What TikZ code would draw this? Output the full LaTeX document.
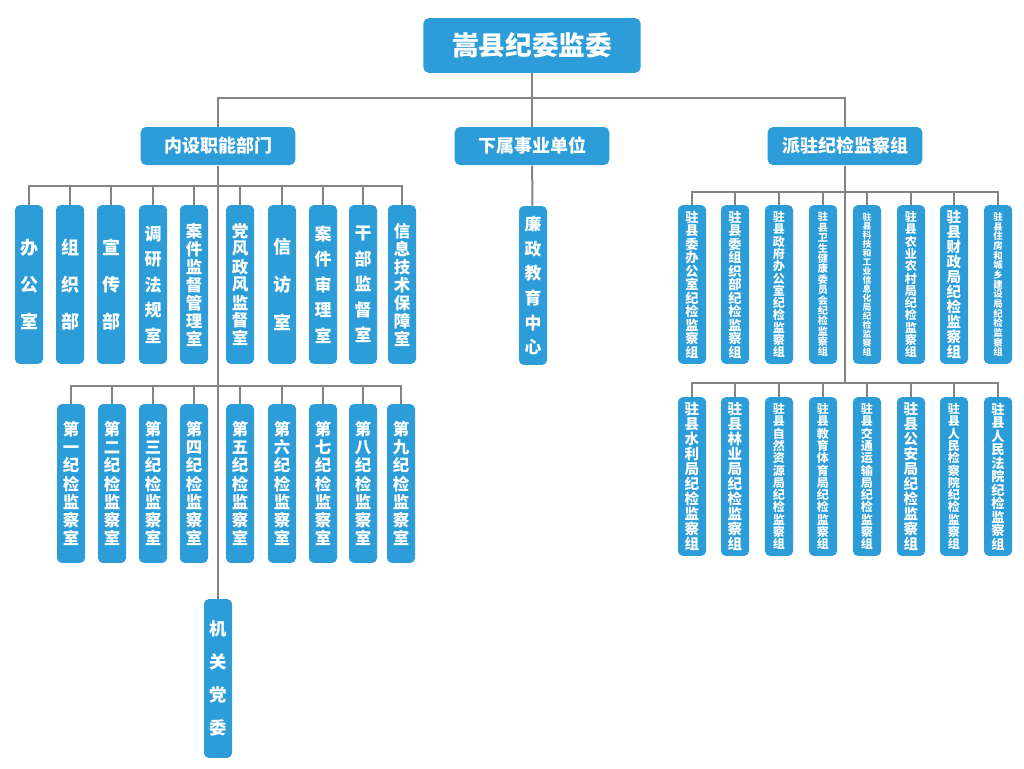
\documentclass[tikz,border=0pt]{standalone}
\usepackage{fontspec}
\newfontfamily\cjk{Noto Sans CJK SC}
\definecolor{boxblue}{RGB}{44,157,216}
\definecolor{linegray}{RGB}{132,132,132}
\tikzset{every picture/.style={line width=0.75pt}}
\tikzset{
  headbox/.style={rectangle, rounded corners=4pt, fill=boxblue, text=white, inner sep=0pt,
    minimum width=163pt, minimum height=41pt, font=\fontsize{20}{24}\selectfont\cjk\bfseries},
  deptbox/.style={rectangle, rounded corners=4pt, fill=boxblue, text=white, inner sep=0pt,
    minimum width=116pt, minimum height=28.5pt, font=\fontsize{13.5}{16}\selectfont\cjk\bfseries},
  colbox/.style={rectangle, rounded corners=3.5pt, fill=boxblue, text=white, inner sep=0pt,
    minimum width=21pt, minimum height=119pt},
  colfont/.style 2 args={font=\fontsize{#1}{#2}\selectfont\cjk\bfseries},
  link/.style={draw=linegray, line width=1.5pt}
}
% one character per line
\newcommand\stackchars[1]{\vbox{\lineskiplimit=-20pt\expandafter\stackcharsi#1\relax}}
\def\stackcharsi#1#2{\hbox{#1}\ifx\relax#2\expandafter\dropone\else\expandafter\stackcharsi\fi#2}
\def\dropone#1{}

\begin{document}
\begin{tikzpicture}[x=0.75pt,y=0.75pt,yscale=-1,xscale=1]
		\fill[white] (0,0) rectangle (1024,768);
		\useasboundingbox (0,0) rectangle (1024,768);
		
		% Top and second level
		\node[headbox] (top) at (532,45.5) {嵩县纪委监委};
		\node[deptbox] (dept) at (218,146) {内设职能部门};
		\node[deptbox] (inst) at (532,146) {下属事业单位};
		\node[deptbox] (grp) at (845,146) {派驻纪检监察组};
		
		% Internal departments, first row
		\foreach \x/\txt/\sp/\fp [count=\i] in {29/办公室/37/18, 70/组织部/37/18, 111/宣传部/37/18,
			153/调研法规室/25.5/17, 194/案件监督管理室/18/16.5, 240/党风政风监督室/18/16.5,
			282/信访室/38/18, 323/案件审理室/25.5/17, 363/干部监督室/25.5/17, 402/信息技术保障室/18/16.5}
		{
			\pgfmathsetmacro\fs{0.75*\fp}
			\pgfmathsetmacro\bs{0.75*\sp}
			\node[colbox, colfont={\fs}{\bs}] (a\i) at (\x,284.5) {\stackchars{\txt}};
		}
		% Internal departments, second row
		\foreach \x/\txt [count=\i] in {71/第一纪检监察室, 112/第二纪检监察室, 153/第三纪检监察室,
			194/第四纪检监察室, 240/第五纪检监察室, 282/第六纪检监察室, 323/第七纪检监察室,
			363/第八纪检监察室, 401/第九纪检监察室}
		{
			\node[colbox, colfont={12.3}{13.7}] (b\i) at (\x,483.5) {\stackchars{\txt}};
		}
		\node[colbox, colfont={13}{24.8}] (dw) at (218,678.5) {\stackchars{机关党委}};
		
		% Affiliated unit
		\node[colbox, colfont={12.6}{18.5}] (lz) at (533,285.5) {\stackchars{廉政教育中心}};
		
		% Stationed groups, two rows
		\foreach \x/\txt/\n [count=\i] in {692/驻县委办公室纪检监察组/11, 735/驻县委组织部纪检监察组/11,
			779/驻县政府办公室纪检监察组/12, 823/驻县卫生健康委员会纪检监察组/14,
			867/驻县科技和工业信息化局纪检监察组/16, 911/驻县农业农村局纪检监察组/12,
			954/驻县财政局纪检监察组/10, 998/驻县住房和城乡建设局纪检监察组/15}
		{
			\pgfmathsetmacro\bs{0.75*135/(\n-1)}
			\pgfmathsetmacro\fs{min(0.98*\bs,10.9)}
			\node[colbox, colfont={\fs}{\bs}] (r\i) at (\x,284.5) {\stackchars{\txt}};
		}
		\foreach \x/\txt/\n [count=\i] in {692/驻县水利局纪检监察组/10, 735/驻县林业局纪检监察组/10,
			779/驻县自然资源局纪检监察组/12, 823/驻县教育体育局纪检监察组/12,
			867/驻县交通运输局纪检监察组/12, 911/驻县公安局纪检监察组/10,
			954/驻县人民检察院纪检监察组/12, 998/驻县人民法院纪检监察组/11}
		{
			\pgfmathsetmacro\bs{0.75*135/(\n-1)}
			\pgfmathsetmacro\fs{min(0.98*\bs,10.9)}
			\node[colbox, colfont={\fs}{\bs}] (s\i) at (\x,476.5) {\stackchars{\txt}};
		}
		
		% Connectors
		\coordinate (bus) at (532,98);
		\coordinate (lbus1) at (218,186);
		\coordinate (lbus2) at (218,386);
		\coordinate (rbus1) at (845,192);
		\coordinate (rbus2) at (845,383);
		\draw[link] (top) -- (bus);
		\draw[link] (bus) -| (dept);
		\draw[link] (bus) -- (inst);
		\draw[link] (bus) -| (grp);
		\draw[link] (inst) -- (lz);
		\draw[link] (dept) -- (dw);
		\draw[link] (grp) -- (rbus2);
		\foreach \i in {1,...,10} \draw[link] (lbus1) -| (a\i);
		\foreach \i in {1,...,9} \draw[link] (lbus2) -| (b\i);
		\foreach \i in {1,...,8} {
			\draw[link] (rbus1) -| (r\i);
			\draw[link] (rbus2) -| (s\i);
		}
		
\end{tikzpicture}
\end{document}
